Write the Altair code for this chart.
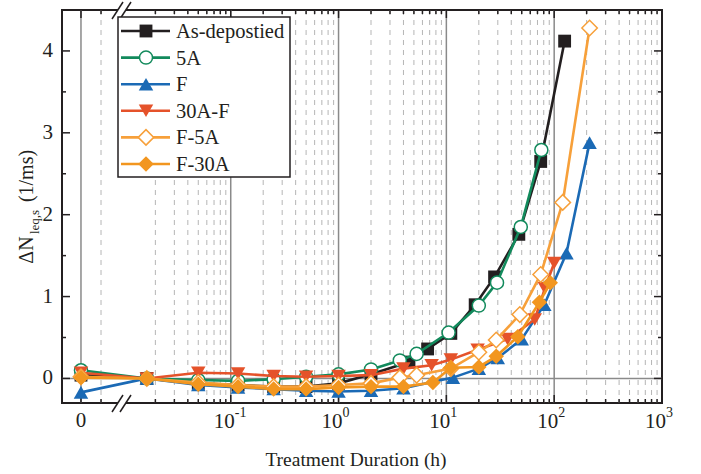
import altair as alt
import pandas as pd
import numpy as np

# ---------------- data: treatment duration (h) and ΔN_leq,s (1/ms) ----------------
series_names = ["As-depostied", "5A", "F", "30A-F", "F-5A", "F-30A"]

t_as_dep = [0, 1/60, 0.05, 0.117, 0.25, 0.5, 1, 2, 4.5, 6.7, 11, 18.5, 28, 47, 75, 125]
v_as_dep = [0.04, 0, -0.06, -0.08, -0.10, -0.10, -0.06, 0.05, 0.20, 0.36, 0.55, 0.90, 1.24, 1.76, 2.65, 4.12]

t_5a = [0, 1/60, 0.05, 0.117, 0.25, 0.5, 1, 2, 3.7, 5.3, 10.5, 20, 29.5, 49, 76]
v_5a = [0.10, 0, -0.02, -0.03, -0.01, 0.02, 0.05, 0.11, 0.22, 0.30, 0.56, 0.89, 1.17, 1.85, 2.79]

t_f = [0, 1/60, 0.05, 0.117, 0.25, 0.5, 1, 2, 4, 11.5, 20, 30, 50, 81, 130, 213]
v_f = [-0.17, 0, -0.08, -0.11, -0.13, -0.15, -0.16, -0.15, -0.12, 0.01, 0.12, 0.25, 0.48, 0.90, 1.53, 2.88]

t_30af = [0, 1/60, 0.05, 0.117, 0.25, 0.5, 1, 2, 4, 7.3, 11, 19.5, 37, 66, 82, 100]
v_30af = [0.07, 0, 0.07, 0.06, 0.03, 0.02, 0.03, 0.04, 0.12, 0.16, 0.23, 0.35, 0.48, 0.72, 1.10, 1.41]

t_f5a = [0, 1/60, 0.05, 0.117, 0.25, 0.5, 1, 2, 3.7, 5.3, 11, 20, 29, 48, 75, 120, 213]
v_f5a = [0.02, 0, -0.05, -0.08, -0.10, -0.10, -0.08, -0.06, 0.01, 0.04, 0.12, 0.32, 0.47, 0.78, 1.27, 2.15, 4.28]

t_f30a = [0, 1/60, 0.05, 0.117, 0.25, 0.5, 1, 2, 4, 7.5, 11, 20, 29, 46, 73, 92]
v_f30a = [0.01, 0, -0.07, -0.10, -0.13, -0.13, -0.11, -0.10, -0.10, -0.05, 0.13, 0.14, 0.27, 0.51, 0.93, 1.17]

series_t = [t_as_dep, t_5a, t_f, t_30af, t_f5a, t_f30a]
series_v = [v_as_dep, v_5a, v_f, v_30af, v_f5a, v_f30a]

# axis tick definitions
y_major = [0, 1, 2, 3, 4]
y_minor = [0.5, 1.5, 2.5, 3.5]
x_decades = [-1, 0, 1, 2, 3]

# ---------------- styles ----------------
series_colors = ["#231f20", "#128a5c", "#1b6ab5", "#e5522a", "#f7a03a", "#f2961f"]
series_shapes = ["square", "circle", "triangle-up", "triangle-down", "diamond", "diamond"]
series_filled = [True, False, True, True, False, True]
shape_size = {"square": 165, "circle": 170, "triangle-up": 210, "triangle-down": 210, "diamond": 240}

FONT = "Liberation Serif"
W, H = 600, 393
P_ZERO = -2.389          # position of t = 0 on the broken axis (log10 units)
P_GAP = -2.203           # the extra dashed line in the left segment
xs = alt.Scale(domain=[-2.565, 3], nice=False, zero=False)
ys = alt.Scale(domain=[-0.3, 4.5], nice=False, zero=False)
POS_EXPR = f"datum.t > 0 ? log(datum.t) / LN10 : {P_ZERO}"

layers = []

# ---------------- grid ----------------
minor_p = [P_GAP]
for d in [-2, -1, 0, 1, 2]:
    for k in range(2, 10):
        minor_p.append(d + np.log10(k))
major_p = [P_ZERO, -1, 0, 1, 2]
minor_df = pd.DataFrame({"p": minor_p})
major_df = pd.DataFrame({"p": major_p})

layers.append(alt.Chart(minor_df).mark_rule(color="#b5b5b5", strokeWidth=1, strokeDash=[5, 5]).encode(
    x=alt.X("p:Q", scale=xs, axis=None), y=alt.value(0), y2=alt.value(H)))
layers.append(alt.Chart(major_df).mark_rule(color="#8a8a8a", strokeWidth=1.5).encode(
    x=alt.X("p:Q", scale=xs, axis=None), y=alt.value(0), y2=alt.value(H)))
layers.append(alt.Chart(pd.DataFrame({"v": [0]})).mark_rule(color="#8a8a8a", strokeWidth=1.5).encode(
    y=alt.Y("v:Q", scale=ys, axis=None), x=alt.value(0), x2=alt.value(W)))

# ---------------- inward ticks ----------------
tick_col = "#231f20"
for df, ln in [(major_df, 8), (minor_df, 4)]:
    layers.append(alt.Chart(df).mark_rule(color=tick_col, strokeWidth=1.5).encode(
        x=alt.X("p:Q", scale=xs, axis=None), y=alt.value(H), y2=alt.value(H - ln)))
    layers.append(alt.Chart(df).mark_rule(color=tick_col, strokeWidth=1.5).encode(
        x=alt.X("p:Q", scale=xs, axis=None), y=alt.value(0), y2=alt.value(ln)))
for vals, ln in [(y_major, 8), (y_minor, 4)]:
    df = pd.DataFrame({"v": vals})
    layers.append(alt.Chart(df).mark_rule(color=tick_col, strokeWidth=1.5).encode(
        y=alt.Y("v:Q", scale=ys, axis=None), x=alt.value(0), x2=alt.value(ln)))
    layers.append(alt.Chart(df).mark_rule(color=tick_col, strokeWidth=1.5).encode(
        y=alt.Y("v:Q", scale=ys, axis=None), x=alt.value(W), x2=alt.value(W - ln)))

# ---------------- tick labels ----------------
ylab_df = pd.DataFrame({"v": y_major, "lab": [str(v) for v in y_major]})
layers.append(alt.Chart(ylab_df).mark_text(font=FONT, fontSize=21, align="right", baseline="middle",
                                            color="#231f20").encode(
    y=alt.Y("v:Q", scale=ys, axis=None), x=alt.value(-9), text="lab:N"))

xlab_df = pd.DataFrame({"p": [float(d) for d in x_decades], "base": ["10"] * len(x_decades),
                        "exp": [str(d) for d in x_decades]})
layers.append(alt.Chart(pd.DataFrame({"p": [P_ZERO], "lab": ["0"]})).mark_text(
    font=FONT, fontSize=21, align="center", baseline="middle", color="#231f20").encode(
    x=alt.X("p:Q", scale=xs, axis=None), y=alt.value(H + 18), text="lab:N"))
layers.append(alt.Chart(xlab_df).mark_text(font=FONT, fontSize=21, align="right", baseline="middle",
                                            dx=4, color="#231f20").encode(
    x=alt.X("p:Q", scale=xs, axis=None), y=alt.value(H + 19), text="base:N"))
layers.append(alt.Chart(xlab_df).mark_text(font=FONT, fontSize=14, align="left", baseline="middle",
                                            dx=4, color="#231f20").encode(
    x=alt.X("p:Q", scale=xs, axis=None), y=alt.value(H + 10), text="exp:N"))

# ---------------- axis titles ----------------
layers.append(alt.Chart(pd.DataFrame({"a": [0]})).mark_text(
    font=FONT, fontSize=19.5, align="center", baseline="middle", color="#231f20").encode(
    x=alt.value(294), y=alt.value(H + 57), text=alt.value("Treatment Duration (h)")))
for txt, xx, yy, fs in [("ΔN", -35, 240, 20), ("leq,s", -27, 212, 13), ("(1/ms)", -35, 166, 20)]:
    layers.append(alt.Chart(pd.DataFrame({"a": [0]})).mark_text(
        font=FONT, fontSize=fs, align="center", baseline="middle", angle=270, color="#231f20").encode(
        x=alt.value(xx), y=alt.value(yy), text=alt.value(txt)))

# ---------------- data series ----------------
for name, tt, vv, col, shp, fil in zip(series_names, series_t, series_v, series_colors,
                                       series_shapes, series_filled):
    df = pd.DataFrame({"t": tt, "v": vv, "series": name})
    base = alt.Chart(df).transform_calculate(p=POS_EXPR)
    enc = dict(x=alt.X("p:Q", scale=xs, axis=None), y=alt.Y("v:Q", scale=ys, axis=None))
    layers.append(base.mark_line(color=col, strokeWidth=2.6).encode(**enc))
    if fil:
        pt = base.mark_point(shape=shp, filled=True, color=col, size=shape_size[shp], opacity=1)
    else:
        pt = base.mark_point(shape=shp, filled=True, fill="white", stroke=col, strokeWidth=1.5,
                             size=shape_size[shp], opacity=1)
    layers.append(pt.encode(**enc))

# ---------------- axis breaks ----------------
one = pd.DataFrame({"a": [0]})
for yc in [H, 0]:
    layers.append(alt.Chart(one).mark_rect(color="white").encode(
        x=alt.value(56), x2=alt.value(64), y=alt.value(yc - 3), y2=alt.value(yc + 3)))
    for x0 in [50, 58]:
        layers.append(alt.Chart(one).mark_rule(color="#231f20", strokeWidth=1.5).encode(
            x=alt.value(x0), x2=alt.value(x0 + 11), y=alt.value(yc + 9), y2=alt.value(yc - 8)))

# ---------------- legend ----------------
layers.append(alt.Chart(one).mark_rect(fill="white", stroke="#231f20", strokeWidth=1.5).encode(
    x=alt.value(56), x2=alt.value(228), y=alt.value(7), y2=alt.value(167)))
for i, (name, col, shp, fil) in enumerate(zip(series_names, series_colors, series_shapes, series_filled)):
    yy = 21 + 26.6 * i
    layers.append(alt.Chart(one).mark_rule(color=col, strokeWidth=2.6).encode(
        x=alt.value(59), x2=alt.value(108), y=alt.value(yy)))
    if fil:
        pt = alt.Chart(one).mark_point(shape=shp, filled=True, color=col, size=shape_size[shp], opacity=1)
    else:
        pt = alt.Chart(one).mark_point(shape=shp, filled=True, fill="white", stroke=col, strokeWidth=1.5,
                                       size=shape_size[shp], opacity=1)
    layers.append(pt.encode(x=alt.value(84), y=alt.value(yy)))
    layers.append(alt.Chart(one).mark_text(font=FONT, fontSize=20.5, align="left", baseline="middle",
                                           color="#231f20").encode(
        x=alt.value(114), y=alt.value(yy + 1), text=alt.value(name)))

chart = alt.layer(*layers).properties(
    width=W, height=H,
    autosize=alt.AutoSizeParams(type="none"),
    padding={"left": 62, "top": 10, "right": 39, "bottom": 71},
    background="white",
).configure_view(stroke="#231f20", strokeWidth=2)

chart.save("out.html", embed_options={"renderer": "svg", "actions": False})
